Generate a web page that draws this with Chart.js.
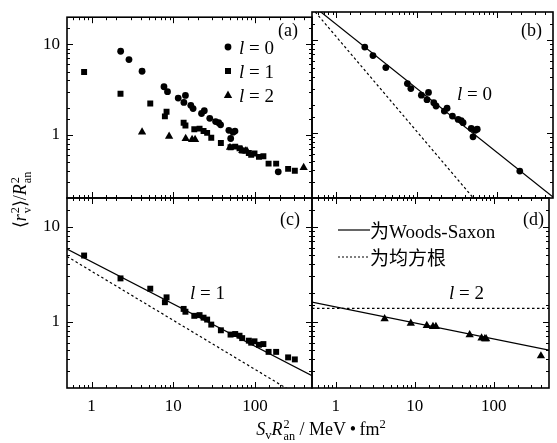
<!DOCTYPE html>
<html>
<head>
<meta charset="utf-8">
<script src="https://cdn.jsdelivr.net/npm/chart.js@4.4.1/dist/chart.umd.min.js"></script>
<style>
  body { margin: 0; background: #fff; }
  #wrap { position: relative; width: 557px; height: 443px; font-family: "Liberation Serif", serif; color: #000; }
  #wrap canvas { position: absolute; left: 0; top: 0; }
  .t { position: absolute; white-space: nowrap; line-height: 1; font-size: 18px; font-family: "Liberation Serif", serif; }
  .lbl { font-size: 19px; }
  i { font-style: italic; font-family: "Liberation Serif", serif; }
  .ss { display: inline-flex; flex-direction: column; font-size: 0.68em; line-height: 0.95; vertical-align: 0.55em; margin-left: 1px; }
  .sub { font-size: 0.7em; vertical-align: -0.35em; }
  .sup { font-size: 0.7em; vertical-align: 0.55em; }
  .cn { font-family: "Noto Sans CJK SC", sans-serif; }
  .lat { font-family: "Liberation Serif", serif; }
  svg { position: absolute; overflow: visible; }
</style>
</head>
<body>
<div id="wrap">
  <canvas id="pa" width="557" height="443"></canvas>
  <canvas id="pb" width="557" height="443"></canvas>
  <canvas id="pc" width="557" height="443"></canvas>
  <canvas id="pd" width="557" height="443"></canvas>

  <div class="t" style="left:278px;top:21px">(a)</div>
  <div class="t" style="left:521px;top:21px">(b)</div>
  <div class="t" style="left:280px;top:210px">(c)</div>
  <div class="t" style="left:523px;top:210px">(d)</div>

  <svg style="left:0;top:0" width="557" height="443">
    <circle cx="228" cy="47" r="3.4" fill="#000"/>
    <rect x="225" y="68" width="6" height="6" fill="#000"/>
    <polygon points="228,90.5 232.2,98 223.8,98" fill="#000"/>
    <line x1="338" y1="230" x2="370" y2="230" stroke="#000" stroke-width="1.2"/>
    <line x1="338" y1="257" x2="370" y2="257" stroke="#000" stroke-width="1.2" stroke-dasharray="2,2"/>
  </svg>
  <div class="t lbl" style="left:239px;top:38px"><i>l</i> = 0</div>
  <div class="t lbl" style="left:239px;top:62px"><i>l</i> = 1</div>
  <div class="t lbl" style="left:239px;top:86px"><i>l</i> = 2</div>
  <div class="t lbl" style="left:457px;top:84px"><i>l</i> = 0</div>
  <div class="t lbl" style="left:190px;top:283px"><i>l</i> = 1</div>
  <div class="t lbl" style="left:449px;top:283px"><i>l</i> = 2</div>
  <div class="t lbl" style="left:370px;top:220px"><span class="cn">为</span><span class="lat">Woods-Saxon</span></div>
  <div class="t lbl" style="left:370px;top:247px"><span class="cn">为均方根</span></div>

  <div class="t" style="left:22px;top:200px;transform:translate(-50%,-50%) rotate(-90deg)">&lang;<i>r</i><span class="ss"><span>2</span><span>v</span></span>&rang;/<i>R</i><span class="ss"><span>2</span><span>an</span></span></div>
  <div class="t" style="left:321px;top:430px;transform:translate(-50%,-50%)"><i>S</i><span class="sub">v</span><i>R</i><span class="ss"><span>2</span><span>an</span></span> / MeV&thinsp;&bull;&thinsp;fm<span class="sup">2</span></div>
</div>

<script>
// axis ranges (log-log)
const xMin = 0.5, xMax = 500
const yMin = 0.2, yMax = 20

// l = 0 points (circles)
const l0X = [2.27, 2.87, 4.15, 7.7, 8.5, 11.5, 13.5, 14.1, 16.4, 17.5, 22.2, 24, 28, 33, 36, 38, 48, 54, 57, 50.5, 193]
const l0Y = [8.4, 6.8, 5.05, 3.4, 3.0, 2.55, 2.28, 2.73, 2.12, 1.95, 1.72, 1.85, 1.52, 1.4, 1.36, 1.29, 1.12, 1.07, 1.1, 0.91, 0.39]

// l = 1 points (squares)
const l1X = [0.81, 2.26, 5.23, 8.28, 7.9, 13.4, 14.1, 18.1, 21, 23.5, 26, 29.2, 38.3, 50.3, 57.4, 64.8, 69.8, 84.2, 90, 98.8, 112, 127, 147, 182, 255, 308]
const l1Y = [4.96, 2.85, 2.22, 1.8, 1.6, 1.36, 1.27, 1.15, 1.17, 1.1, 1.05, 0.93, 0.81, 0.73, 0.74, 0.71, 0.67, 0.63, 0.6, 0.62, 0.57, 0.58, 0.48, 0.48, 0.42, 0.4]

// l = 2 points (triangles)
const l2X = [4.15, 8.9, 14.2, 17, 18.5, 49.5, 70, 77, 80, 395]
const l2Y = [1.07, 0.96, 0.91, 0.885, 0.885, 0.725, 0.67, 0.66, 0.66, 0.435]

// Woods-Saxon (solid) and rms (dashed) lines, end points
const ws0X = [0.5, 500], ws0Y = [23.8, 0.205]
const rms0X = [0.5, 51], rms0Y = [22, 0.2]
const ws1X = [0.5, 500], ws1Y = [5.8, 0.27]
const rms1X = [0.5, 265], rms1Y = [4.85, 0.19]
const ws2X = [0.5, 500], ws2Y = [1.6, 0.5]
const rms2X = [0.5, 500], rms2Y = [1.38, 1.38]

const pts = (xs, ys) => xs.map((x, i) => ({ x, y: ys[i] }))
const isMajor = v => Math.abs(Math.log10(v) - Math.round(Math.log10(v))) < 1e-6

const frame = {
  id: 'frame',
  afterDatasetsDraw(chart) {
    const { ctx, chartArea: a, scales: { x, y } } = chart
    ctx.save()
    ctx.strokeStyle = '#000'
    ctx.lineWidth = 1
    ctx.beginPath()
    x.ticks.forEach(t => {
      const px = Math.round(x.getPixelForValue(t.value)) + 0.5
      if (px < a.left + 1.5 || px > a.right - 1.5) return
      const len = isMajor(t.value) ? 6 : 3
      ctx.moveTo(px, a.bottom); ctx.lineTo(px, a.bottom - len)
      ctx.moveTo(px, a.top); ctx.lineTo(px, a.top + len)
    })
    y.ticks.forEach(t => {
      const py = Math.round(y.getPixelForValue(t.value)) + 0.5
      if (py < a.top + 1.5 || py > a.bottom - 1.5) return
      const len = isMajor(t.value) ? 6 : 3
      ctx.moveTo(a.left, py); ctx.lineTo(a.left + len, py)
      ctx.moveTo(a.right, py); ctx.lineTo(a.right - len, py)
    })
    ctx.stroke()
    ctx.lineWidth = 1.6
    ctx.strokeRect(a.left, a.top, a.right - a.left, a.bottom - a.top)
    ctx.restore()
  }
}

const tickFont = { family: 'Liberation Serif', size: 17 }

function scatter(xs, ys, style, r) {
  return { data: pts(xs, ys), pointStyle: style, pointRadius: r, pointBackgroundColor: '#000', pointBorderWidth: 0, showLine: false, clip: 0 }
}
function line(xs, ys, dashed) {
  return { data: pts(xs, ys), showLine: true, pointRadius: 0, borderColor: '#000', borderWidth: 1.2, borderDash: dashed ? [2.5, 2.5] : [], clip: 0 }
}

function panel(id, box, datasets, showX, showY) {
  new Chart(document.getElementById(id), {
    type: 'scatter',
    data: { datasets },
    plugins: [frame],
    options: {
      responsive: false,
      animation: false,
      events: [],
      layout: { padding: { left: 0, top: box.top, right: 557 - box.right, bottom: 0 } },
      plugins: { legend: { display: false }, tooltip: { enabled: false } },
      scales: {
        x: {
          type: 'logarithmic', min: xMin, max: xMax,
          grid: { display: false, drawTicks: false }, border: { display: false },
          ticks: { display: showX, autoSkip: false, maxRotation: 0, padding: 8, color: '#000', font: tickFont,
            callback: v => isMajor(v) ? String(Math.round(v)) : '' },
          afterFit: s => { s.height = 443 - box.bottom }
        },
        y: {
          type: 'logarithmic', min: yMin, max: yMax,
          grid: { display: false, drawTicks: false }, border: { display: false },
          ticks: { display: showY, autoSkip: false, padding: 7, color: '#000', font: tickFont,
            callback: v => isMajor(v) ? String(Math.round(v)) : '' },
          afterFit: s => { s.width = box.left }
        }
      }
    }
  })
}

panel('pa', { left: 67, top: 12, right: 312, bottom: 198 }, [
  scatter(l0X, l0Y, 'circle', 3.4),
  scatter(l1X, l1Y, 'rect', 4.2),
  scatter(l2X, l2Y, 'triangle', 4.8)
], false, true)

panel('pb', { left: 312, top: 12, right: 556, bottom: 198 }, [
  line(ws0X, ws0Y, false),
  line(rms0X, rms0Y, true),
  scatter(l0X, l0Y, 'circle', 3.4)
], false, false)

panel('pc', { left: 67, top: 198, right: 312, bottom: 388 }, [
  line(ws1X, ws1Y, false),
  line(rms1X, rms1Y, true),
  scatter(l1X, l1Y, 'rect', 4.2)
], true, true)

panel('pd', { left: 312, top: 198, right: 556, bottom: 388 }, [
  line(ws2X, ws2Y, false),
  line(rms2X, rms2Y, true),
  scatter(l2X, l2Y, 'triangle', 4.8)
], true, false)
</script>
</body>
</html>
